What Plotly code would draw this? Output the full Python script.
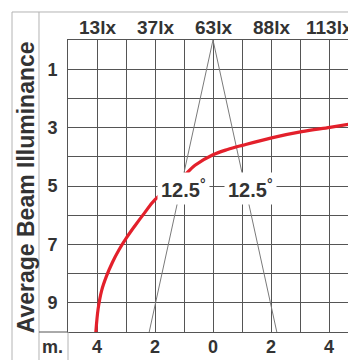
import plotly.graph_objects as go

# ---- data ----
curve_x = [-4.04, -3.96, -3.84, -3.67, -3.47, -3.25, -2.98, -2.69, -2.36, -2.0,
           -0.97, -0.62, 0.0, 0.5, 1.04, 2.02, 3.06, 4.03, 4.7]
curve_y = [10.0, 9.2, 8.58, 8.08, 7.62, 7.2, 6.77, 6.36, 5.92, 5.47,
           4.62, 4.29, 3.93, 3.75, 3.6, 3.35, 3.14, 2.99, 2.88]

beam_depth = [0, 10]          # distance (m) down the y axis
beam_half_width = [0, 2.2]    # half width of beam at that distance (m)
beam_angle_label = "12.5"
beam_label_x = [-1.03, 1.31]
beam_label_y = [5.1, 5.1]

bottom_tick_vals = [-4, -2, 0, 2, 4]
bottom_tick_text = ["4", "2", "0", "2", "4"]
top_tick_vals = [-4, -2, 0, 2, 4]
top_tick_text = ["13lx", "37lx", "63lx", "88lx", "113lx"]
y_tick_vals = [1, 3, 5, 7, 9]
y_tick_text = ["1", "3", "5", "7", "9"]

x_grid = list(range(-4, 5))
y_grid = list(range(1, 10))

TEXT = "#333333"
GRID = "#555555"
FRAME = "#b4b4b4"
FONT = "Liberation Sans, Arial, sans-serif"

def labels_for(grid, vals, texts):
    m = dict(zip(vals, texts))
    return [m.get(g, "") for g in grid]

fig = go.Figure()

# beam edges
fig.add_trace(go.Scatter(x=[-w for w in beam_half_width], y=beam_depth, mode="lines",
                         line=dict(color="#7a7a7a", width=1), hoverinfo="skip", showlegend=False))
fig.add_trace(go.Scatter(x=beam_half_width, y=beam_depth, mode="lines",
                         line=dict(color="#7a7a7a", width=1), hoverinfo="skip", showlegend=False))

# illuminance curve
fig.add_trace(go.Scatter(x=curve_x, y=curve_y, mode="lines", line_shape="spline",
                         line=dict(color="#e3202b", width=3.2), hoverinfo="skip", showlegend=False))

xr = [-5, 4.655]
fig.update_layout(
    width=348, height=360,
    margin=dict(l=68, r=0, t=40, b=28, autoexpand=False),
    paper_bgcolor="white", plot_bgcolor="white",
    font=dict(family=FONT, color=TEXT),
    xaxis=dict(range=xr, tickmode="array", tickvals=x_grid,
               ticktext=[""] * len(x_grid), automargin=False,
               showgrid=True, gridcolor=GRID, gridwidth=1, zeroline=False,
               showline=True, linecolor=GRID, linewidth=1, mirror=True,
               ticks=""),
    yaxis=dict(range=[10, 0], tickmode="array", tickvals=y_grid,
               ticktext=labels_for(y_grid, y_tick_vals, y_tick_text), automargin=False,
               showgrid=True, gridcolor=GRID, gridwidth=1, zeroline=False,
               showline=True, linecolor=GRID, linewidth=1, mirror=False,
               ticks="", ticklabelstandoff=6,
               tickfont=dict(family=FONT, size=18, color=TEXT, weight="bold")),
)

# bottom (distance) and top (lux) labels
for v, t in zip(bottom_tick_vals, bottom_tick_text):
    fig.add_annotation(x=v, y=-0.0514, xref="x", yref="paper", showarrow=False, text=t,
                       xanchor="center", yanchor="middle",
                       font=dict(family=FONT, size=18, color=TEXT, weight="bold"))
for v, t in zip(top_tick_vals, top_tick_text):
    fig.add_annotation(x=v, y=1.0445, xref="x", yref="paper", showarrow=False, text=t,
                       xanchor="center", yanchor="middle",
                       font=dict(family=FONT, size=19, color=TEXT, weight="bold"))

# angle labels with white boxes
for lx, ly in zip(beam_label_x, beam_label_y):
    fig.add_annotation(x=lx, y=ly, xref="x", yref="y", showarrow=False,
                       text=beam_angle_label + "<sup>°</sup>",
                       font=dict(family=FONT, size=20, color=TEXT, weight="bold"),
                       bgcolor="white", borderpad=3)

# y title
fig.add_annotation(x=-0.152, y=0.497, xref="paper", yref="paper", showarrow=False,
                   text="Average Beam Illuminance", textangle=-90,
                   xanchor="center", yanchor="middle",
                   font=dict(family=FONT, size=23, color=TEXT, weight="bold"))
# unit label
fig.add_annotation(x=-0.054, y=-0.0514, xref="paper", yref="paper", showarrow=False,
                   text="m.", xanchor="center", yanchor="middle",
                   font=dict(family=FONT, size=18, color=TEXT, weight="bold"))

# outer frame lines
frame = dict(color=FRAME, width=1)
fig.add_shape(type="line", xref="paper", yref="paper", x0=-0.2, x1=-0.2, y0=-0.1, y1=1.0959, line=frame)
fig.add_shape(type="line", xref="paper", yref="paper", x0=-0.1036, x1=-0.1036, y0=-0.1, y1=1.0959, line=frame)
fig.add_shape(type="line", xref="paper", yref="paper", x0=-0.2, x1=1.0, y0=1.0959, y1=1.0959, line=frame)
fig.add_shape(type="line", xref="paper", yref="paper", x0=-0.1036, x1=0, y0=0, y1=0,
              line=dict(color=GRID, width=1))
fig.add_shape(type="line", xref="paper", yref="paper", x0=0, x1=0, y0=-0.1, y1=0,
              line=dict(color=FRAME, width=1))

fig.write_html("out.html", config={"displayModeBar": False, "staticPlot": True},
               post_script="document.body.style.margin='0';document.body.style.overflow='hidden';")
